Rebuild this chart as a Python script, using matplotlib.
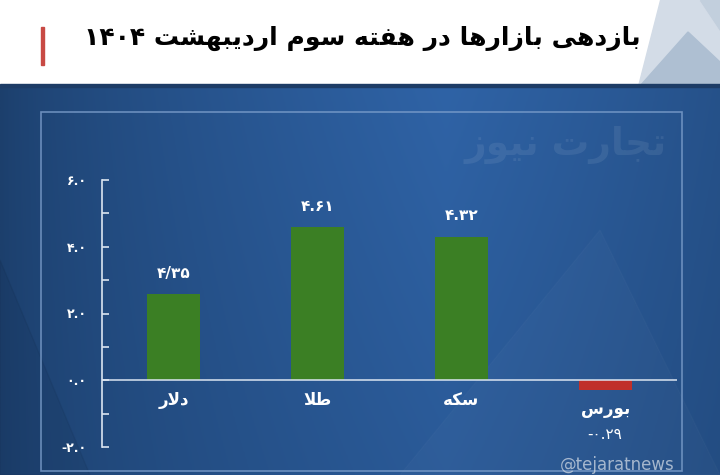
"""
Weekly market returns chart (third week of Ordibehesht 1404)
"""
import numpy as np
import matplotlib.pyplot as plt
from matplotlib.patches import Rectangle, Polygon

# data
markets = ['دلار', 'طلا', 'سکه', 'بورس']
returns = [2.58, 4.58, 4.30, -0.29]
value_labels = ['۴/۳۵', '۴.۶۱', '۴.۳۲', '-۰.۲۹']
y_ticks = [-2, 0, 2, 4, 6]
y_tick_labels = ['-۲.۰', '۰.۰', '۲.۰', '۴.۰', '۶.۰']
title = 'بازدهی بازارها در هفته سوم اردیبهشت ۱۴۰۴'
watermark = 'تجارت نیوز'

# matplotlib has no arabic shaping, so pick presentation forms by hand
# (isolated, final, initial, medial)
FORMS = {
    'ا': ('\uFE8D', '\uFE8E', None, None),
    'ب': ('\uFE8F', '\uFE90', '\uFE91', '\uFE92'),
    'ت': ('\uFE95', '\uFE96', '\uFE97', '\uFE98'),
    'ج': ('\uFE9D', '\uFE9E', '\uFE9F', '\uFEA0'),
    'د': ('\uFEA9', '\uFEAA', None, None),
    'ر': ('\uFEAD', '\uFEAE', None, None),
    'ز': ('\uFEAF', '\uFEB0', None, None),
    'س': ('\uFEB1', '\uFEB2', '\uFEB3', '\uFEB4'),
    'ش': ('\uFEB5', '\uFEB6', '\uFEB7', '\uFEB8'),
    'ط': ('\uFEC1', '\uFEC2', '\uFEC3', '\uFEC4'),
    'ف': ('\uFED1', '\uFED2', '\uFED3', '\uFED4'),
    'ک': ('\uFED9', '\uFEDA', '\uFEDB', '\uFEDC'),
    'ل': ('\uFEDD', '\uFEDE', '\uFEDF', '\uFEE0'),
    'م': ('\uFEE1', '\uFEE2', '\uFEE3', '\uFEE4'),
    'ن': ('\uFEE5', '\uFEE6', '\uFEE7', '\uFEE8'),
    'ه': ('\uFEE9', '\uFEEA', '\uFEEB', '\uFEEC'),
    'و': ('\uFEED', '\uFEEE', None, None),
    'ی': ('\uFEEF', '\uFEF0', '\uFEF3', '\uFEF4'),
}


def dual(c):
    return c in FORMS and FORMS[c][2] is not None


def shape(s):
    res = []
    i = 0
    while i < len(s):
        c = s[i]
        if c not in FORMS:
            res.append(c)
            i += 1
            continue
        join_prev = i > 0 and dual(s[i - 1])
        if c == 'ل' and i + 1 < len(s) and s[i + 1] == 'ا':
            res.append('\uFEFC' if join_prev else '\uFEFB')
            i += 2
            continue
        nxt = s[i + 1] if i + 1 < len(s) else ''
        join_next = dual(c) and nxt in FORMS
        iso, fin, ini, med = FORMS[c]
        if join_prev and join_next:
            res.append(med)
        elif join_prev:
            res.append(fin)
        elif join_next:
            res.append(ini)
        else:
            res.append(iso)
        i += 1
    return res


def fa(s):
    chars = shape(s)
    # group into runs, digits stay left-to-right
    runs = []
    for ch in chars:
        ltr = ch in '۰۱۲۳۴۵۶۷۸۹0123456789./'
        if runs and runs[-1][0] == ltr:
            runs[-1][1].append(ch)
        else:
            runs.append([ltr, [ch]])
    out = ''
    for ltr, r in reversed(runs):
        out += ''.join(r) if ltr else ''.join(reversed(r))
    return out


plt.rcParams['font.family'] = ['DejaVu Sans']

fig = plt.figure(figsize=(7.2, 4.75), dpi=100)

# background
bg = fig.add_axes([0, 0, 1, 1])
bg.set_xlim(0, 720)
bg.set_ylim(475, 0)
bg.axis('off')
xx = np.linspace(0, 1, 300)
yy = np.linspace(0, 1, 100)
X, Y = np.meshgrid(xx, yy)
light = np.clip(1 - np.abs(X - 0.62) / 0.62, 0, 1) ** 0.7
light = light * (1 - 0.25 * Y)
c_dark = np.array([0x1c, 0x3f, 0x6c]) / 255
c_light = np.array([0x2f, 0x63, 0xa6]) / 255
img = c_dark + (c_light - c_dark) * light[..., None]
bg.imshow(img, extent=[0, 720, 475, 86], aspect='auto', zorder=0)
bg.add_patch(Polygon([[400, 475], [600, 230], [720, 475]], closed=True,
                     color='white', alpha=0.02, zorder=1))
bg.add_patch(Polygon([[0, 260], [90, 475], [0, 475]], closed=True,
                     color='black', alpha=0.05, zorder=1))

# header
bg.add_patch(Rectangle((0, 0), 720, 86, color='white', zorder=2))
bg.add_patch(Polygon([[660, 0], [720, 0], [720, 86], [638, 86]], closed=True,
                     color='#d3dce7', zorder=3))
bg.add_patch(Polygon([[700, 0], [720, 0], [720, 30]], closed=True,
                     color='#c2cfdd', zorder=3))
bg.add_patch(Polygon([[640, 86], [688, 32], [720, 62], [720, 86]], closed=True,
                     color='#aebfd2', zorder=3))
bg.add_patch(Rectangle((0, 84), 720, 3, color='#1d3c66', zorder=3))
bg.add_patch(Rectangle((41, 27), 3, 38, color='#c84a44', zorder=4))
bg.text(362, 38, fa(title), ha='center', va='center', fontsize=18,
        fontweight='bold', color='black', zorder=5)

# frame and watermark
bg.add_patch(Rectangle((41, 112), 641, 359, fill=False, edgecolor='#7d9fcc',
                       lw=1.2, alpha=0.8, zorder=2))
bg.text(566, 145, fa(watermark), ha='center', va='center', fontsize=27,
        fontweight='bold', color='white', alpha=0.08, zorder=2)
bg.text(675, 465, '@tejaratnews', ha='right', va='center', fontsize=12,
        color='#c5d0de', alpha=0.8, zorder=2)

# chart
ax = fig.add_axes([102 / 720, 1 - 447 / 475, 575 / 720, 267 / 475])
ax.patch.set_alpha(0)
x = np.arange(len(markets))
colors = ['#3b7f24' if v >= 0 else '#c0302a' for v in returns]
ax.bar(x, returns, width=0.37, color=colors, zorder=2)
ax.axhline(0, color='#dbe5f1', lw=1.1, zorder=3)
ax.set_xlim(-0.5, 3.5)
ax.set_ylim(-2, 6)
for side in ['top', 'right', 'bottom']:
    ax.spines[side].set_visible(False)
ax.spines['left'].set_color('#dbe5f1')
ax.spines['left'].set_linewidth(1.2)
ax.set_xticks([])
ax.set_yticks(y_ticks)
ax.set_yticklabels(y_tick_labels)
ax.set_yticks([-1, 1, 3, 5], minor=True)
ax.tick_params(axis='y', which='both', direction='in', length=5, width=1.2,
               color='#dbe5f1', labelcolor='white', labelsize=9, pad=11)
for lbl in ax.get_yticklabels():
    lbl.set_fontweight('bold')

for i, v in enumerate(returns):
    ax.annotate(fa(markets[i]), (i, min(v, 0)), xytext=(0, -14),
                textcoords='offset points', ha='center', va='center',
                fontsize=12, fontweight='bold', color='white')
    if v >= 0:
        ax.annotate(value_labels[i], (i, v), xytext=(0, 15),
                    textcoords='offset points', ha='center', va='center',
                    fontsize=11, fontweight='bold', color='white')
    else:
        ax.annotate(value_labels[i], (i, v), xytext=(0, -32),
                    textcoords='offset points', ha='center', va='center',
                    fontsize=11, color='white')

plt.savefig('out.png', dpi=100)
plt.close()
